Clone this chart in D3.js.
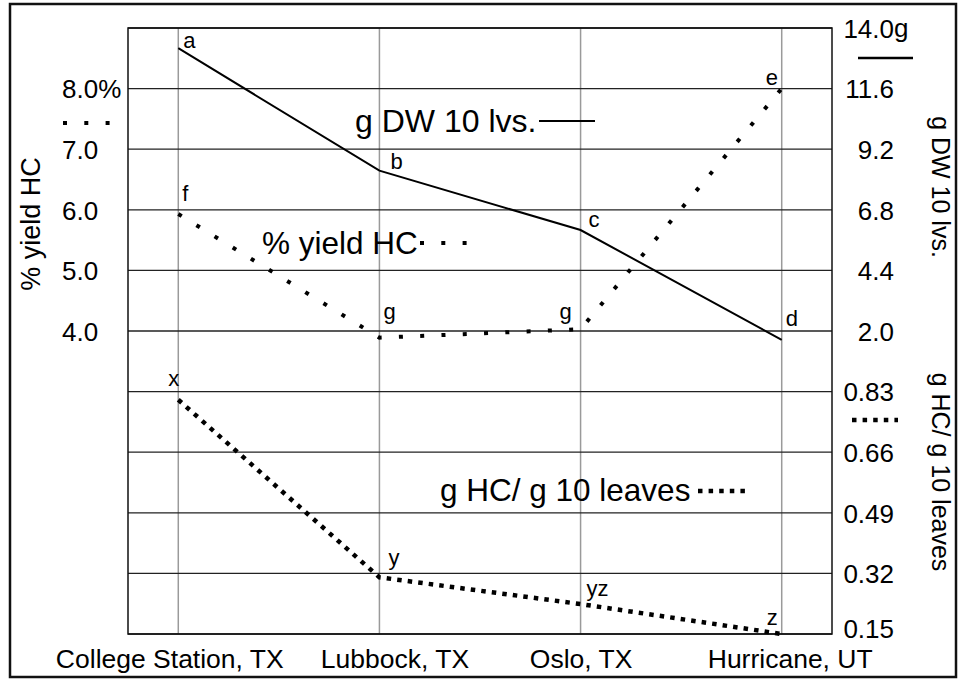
<!DOCTYPE html>
<html>
<head>
<meta charset="utf-8">
<script src="https://cdn.jsdelivr.net/npm/d3@7.9.0/dist/d3.min.js"></script>
<style>
  body { margin: 0; background: #fff; }
  svg text { font-family: "Liberation Sans", Arial, sans-serif; fill: #000; }
</style>
</head>
<body>
<svg id="chart" width="959" height="679"></svg>
<script>
// data
const sites = ["College Station, TX", "Lubbock, TX", "Oslo, TX", "Hurricane, UT"];

const dwValues = [13.2, 8.35, 6.0, 1.65];       // g DW 10 lvs. (solid)
const dwLetters = ["a", "b", "c", "d"];

const yieldValues = [5.93, 3.89, 4.03, 8.0];    // % yield HC (sparse dots)
const yieldLetters = ["f", "g", "g", "e"];

const hcValues = [0.807, 0.309, 0.234, 0.15];   // g HC/ g 10 leaves (dense dots)
const hcLetters = ["x", "y", "yz", "z"];

const pctTicks = [4, 5, 6, 7, 8];
const pctTickLabels = ["4.0", "5.0", "6.0", "7.0", "8.0%"];
const dwTicks = [2.0, 4.4, 6.8, 9.2, 11.6, 14.0];
const dwTickLabels = ["2.0", "4.4", "6.8", "9.2", "11.6", "14.0"];
const hcTicks = [0.15, 0.32, 0.49, 0.66, 0.83];
const hcTickLabels = ["0.15", "0.32", "0.49", "0.66", "0.83"];

// letter placement next to each point (dx, dy)
const dwLabelOffsets = [[5, 0], [11, -2], [8, -3], [4, -14]];
const yieldLabelOffsets = [[4, -13], [4, -19], [-21, -10], [-16, -4]];
const hcLabelOffsets = [[-10, -14], [9, -12], [6, -8], [-15, -9]];
// site names are not centred exactly on their grid line
const siteLabelShift = [-9, 15, 0, 8];

const svg = d3.select("#chart");

const plotLeft = 128, plotRight = 832, plotTop = 28, plotBottom = 634;
const row = (plotBottom - plotTop) / 10;
const mid = plotTop + 5 * row;

const x = d3.scalePoint().domain(sites).range([plotLeft, plotRight]).padding(0.25);
const yDW = d3.scaleLinear().domain([2, 14]).range([mid, plotTop]);
const yPct = d3.scaleLinear().domain([4, 9]).range([mid, plotTop]);
const yHC = d3.scaleLinear().domain([0.15, 1.0]).range([plotBottom, mid]);

// outer frame
svg.append("rect")
  .attr("x", 10).attr("y", 4).attr("width", 946).attr("height", 673)
  .attr("fill", "none").attr("stroke", "#111").attr("stroke-width", 2.5);

// vertical grid lines
svg.append("g")
  .selectAll("line")
  .data(sites)
  .join("line")
  .attr("x1", d => x(d)).attr("x2", d => x(d))
  .attr("y1", plotTop).attr("y2", plotBottom)
  .attr("stroke", "#9a9a9a").attr("stroke-width", 1.5);

// horizontal grid lines from both right scales
const gridY = dwTicks.map(yDW).concat(hcTicks.map(yHC));
svg.append("g")
  .selectAll("line")
  .data(gridY)
  .join("line")
  .attr("x1", plotLeft).attr("x2", plotRight)
  .attr("y1", d => d).attr("y2", d => d)
  .attr("stroke", "#222").attr("stroke-width", 1.3);

svg.append("rect")
  .attr("x", plotLeft).attr("y", plotTop)
  .attr("width", plotRight - plotLeft).attr("height", plotBottom - plotTop)
  .attr("fill", "none").attr("stroke", "#111").attr("stroke-width", 1.5);

// left axis labels (% yield HC)
const leftAxis = svg.append("g")
  .call(d3.axisLeft(yPct).tickValues(pctTicks).tickSize(0)
    .tickFormat((d, i) => pctTickLabels[i]));
leftAxis.select(".domain").remove();
leftAxis.selectAll("text")
  .attr("x", 62).attr("text-anchor", "start").attr("dy", "0.36em")
  .attr("font-size", 26).attr("font-family", null);

// right axis labels (g DW and g HC)
function rightLabels(scale, ticks, labels) {
  const g = svg.append("g")
    .call(d3.axisRight(scale).tickValues(ticks).tickSize(0)
      .tickFormat((d, i) => labels[i]));
  g.select(".domain").remove();
  g.selectAll("text")
    .attr("x", 894).attr("text-anchor", "end").attr("dy", "0.36em")
    .attr("font-size", 26).attr("font-family", null);
  return g;
}
rightLabels(yDW, dwTicks, dwTickLabels);
const hcAxis = rightLabels(yHC, hcTicks, hcTickLabels);
// bottom value sits a little above its line, clear of the site name
hcAxis.selectAll("text").filter(d => d === hcTicks[0]).attr("y", -6);
svg.append("text")
  .attr("x", 894).attr("y", yDW(14)).attr("dy", "0.36em")
  .attr("font-size", 26).text("g");

// x axis labels
const xAxis = svg.append("g")
  .attr("transform", `translate(0,${plotBottom})`)
  .call(d3.axisBottom(x).tickSize(0));
xAxis.select(".domain").remove();
xAxis.selectAll("text")
  .attr("x", (d, i) => siteLabelShift[i])
  .attr("y", 0).attr("dy", 34)
  .attr("font-size", 26.5).attr("font-family", null);

// axis titles
svg.append("text")
  .attr("transform", "translate(30,224) rotate(-90)")
  .attr("text-anchor", "middle").attr("dy", "0.36em")
  .attr("font-size", 27).text("% yield HC");
svg.append("text")
  .attr("transform", "translate(941,187) rotate(90)")
  .attr("text-anchor", "middle").attr("dy", "0.36em")
  .attr("font-size", 25).text("g DW 10 lvs.");
svg.append("text")
  .attr("transform", "translate(941,472) rotate(90)")
  .attr("text-anchor", "middle").attr("dy", "0.36em")
  .attr("font-size", 25).text("g HC/ g 10 leaves");

// line styles
const solidStyle = { width: 2, dash: null };
const yieldStyle = { width: 4, dash: "4 17.3" };
const hcStyle = { width: 4.5, dash: "4.5 6.1" };

function drawSeries(values, scale, style, letters, offsets) {
  const line = d3.line()
    .x((d, i) => x(sites[i]))
    .y(d => scale(d));
  svg.append("path")
    .attr("d", line(values))
    .attr("fill", "none")
    .attr("stroke", "#000")
    .attr("stroke-width", style.width)
    .attr("stroke-dasharray", style.dash)
    .attr("stroke-linecap", "butt");
  svg.append("g")
    .selectAll("text")
    .data(values)
    .join("text")
    .attr("x", (d, i) => x(sites[i]) + offsets[i][0])
    .attr("y", (d, i) => scale(d) + offsets[i][1])
    .attr("font-size", 22)
    .text((d, i) => letters[i]);
}

drawSeries(dwValues, yDW, solidStyle, dwLetters, dwLabelOffsets);
drawSeries(yieldValues, yPct, yieldStyle, yieldLetters, yieldLabelOffsets);
drawSeries(hcValues, yHC, hcStyle, hcLetters, hcLabelOffsets);

// legend keys
function key(x1, x2, y, style) {
  svg.append("line")
    .attr("x1", x1).attr("x2", x2).attr("y1", y).attr("y2", y)
    .attr("stroke", "#000")
    .attr("stroke-width", style.width)
    .attr("stroke-dasharray", style.dash);
}

svg.append("text").attr("x", 355).attr("y", 132).attr("font-size", 32).text("g DW 10 lvs.");
key(539, 595, 121, solidStyle);
svg.append("text").attr("x", 262).attr("y", 254).attr("font-size", 31.5).text("% yield HC");
key(420, 468, 243, yieldStyle);
svg.append("text").attr("x", 440).attr("y", 501).attr("font-size", 31.5).text("g HC/ g 10 leaves");
key(698, 746, 491, hcStyle);

key(858, 913, 58, { width: 2.5, dash: null });
key(63, 112, 123, yieldStyle);
key(852, 898, 420, hcStyle);
</script>
</body>
</html>
